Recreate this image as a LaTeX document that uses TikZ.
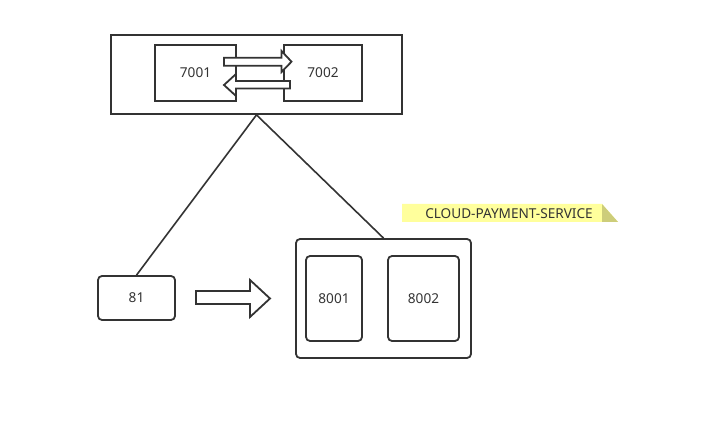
\documentclass[tikz,border=0pt]{standalone}
\usepackage{fontspec}
\setmainfont{Noto Sans}
\usetikzlibrary{positioning}
\definecolor{edgegray}{HTML}{333333}
\definecolor{noteyellow}{HTML}{FFFF9C}
\definecolor{notefold}{HTML}{CDCD7A}

\begin{document}
\begin{tikzpicture}[x=0.5pt, y=-0.5pt,
    every node/.style={font=\fontsize{6.8}{8}\selectfont, text=edgegray},
    box/.style={draw=edgegray, line width=0.9pt, fill=white, inner sep=0pt},
    rbox/.style={box, rounded corners=2pt},
    blockarrow/.style={draw=edgegray, line width=0.9pt, fill=white, line join=miter}]
    \useasboundingbox[fill=white] (0,0) rectangle (705,421);

    % redis cluster
    \node[box, minimum width=145.5pt, minimum height=39.5pt] (top) at (256.5,74.5) {};
    \node[box, minimum width=40.5pt, minimum height=28pt] (n7001) at (195.5,73) {7001};
    \node[box, minimum width=39pt, minimum height=28pt] (n7002) at (323,73) {7002};

    \draw[blockarrow] (224,57.7) -- (281.5,57.7) -- (281.5,51) -- (291.5,61.7)
        -- (281.5,72) -- (281.5,65.7) -- (224,65.7) -- cycle;
    \draw[blockarrow] (290,81) -- (236,81) -- (236,74) -- (224,85)
        -- (236,96) -- (236,88.5) -- (290,88.5) -- cycle;

    % client and service
    \node[rbox, minimum width=38.5pt, minimum height=22pt] (n81) at (136.5,298) {81};
    \node[rbox, minimum width=87.5pt, minimum height=59.5pt] (cluster) at (383.5,298.5) {};
    \node[rbox, minimum width=28pt, minimum height=42.5pt] (n8001) at (334,298.5) {8001};
    \node[rbox, minimum width=35.5pt, minimum height=42.5pt] (n8002) at (423.5,298.5) {8002};

    \draw[blockarrow] (196,291) -- (250,291) -- (250,280) -- (270,298.5)
        -- (250,317) -- (250,304) -- (196,304) -- cycle;

    \draw[edgegray, line width=0.8pt] (n81.north) -- (top.south) -- (cluster.north);

    % note
    \fill[noteyellow] (402,204) -- (602,204) -- (618,222) -- (402,222) -- cycle;
    \fill[notefold] (602,204) -- (618,222) -- (602,222) -- cycle;
    \node (note) at (509,213.5) {CLOUD-PAYMENT-SERVICE};
\end{tikzpicture}
\end{document}
